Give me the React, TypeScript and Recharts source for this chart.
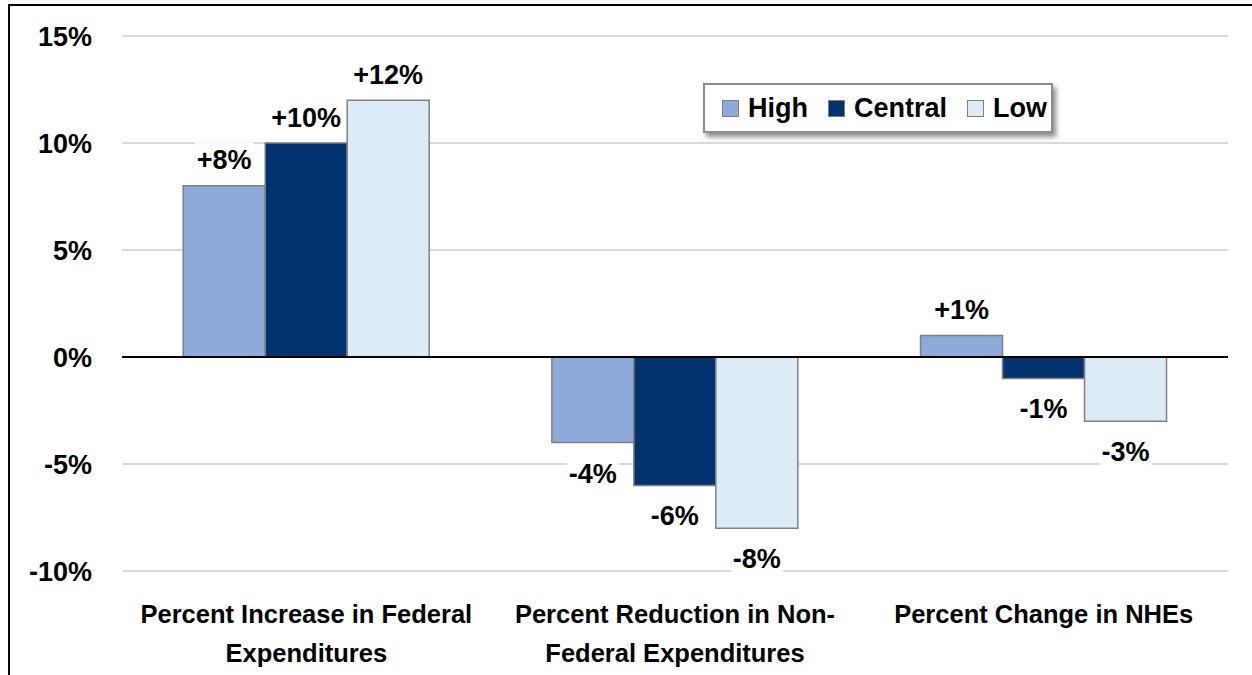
import React from 'react';
import { BarChart, Bar, XAxis, YAxis, CartesianGrid, ReferenceLine, LabelList } from 'recharts';

const categories = [
  'Percent Increase in Federal Expenditures',
  'Percent Reduction in Non-Federal Expenditures',
  'Percent Change in NHEs',
];
const categoryLines: string[][] = [
  ['Percent Increase in Federal', 'Expenditures'],
  ['Percent Reduction in Non-', 'Federal Expenditures'],
  ['Percent Change in NHEs'],
];
const highValues = [8, -4, 1];
const centralValues = [10, -6, -1];
const lowValues = [12, -8, -3];
const yTicks = [-10, -5, 0, 5, 10, 15];
const seriesNames = ['High', 'Central', 'Low'];
const seriesKeys = ['high', 'central', 'low'];
const seriesColors = ['#8EAADB', '#003370', '#DDEBF7'];

const data = categories.map((name, i) => ({
  name,
  high: highValues[i],
  central: centralValues[i],
  low: lowValues[i],
}));

const FONT = "'Liberation Sans', Arial, sans-serif";

const charW: Record<string, number> = {
  '+': 0.584, '-': 0.333, '%': 0.889,
  '0': 0.556, '1': 0.556, '2': 0.556, '3': 0.556, '4': 0.556,
  '5': 0.556, '6': 0.556, '7': 0.556, '8': 0.556, '9': 0.556,
};
const textWidth = (s: string, size: number) =>
  s.split('').reduce((a, c) => a + (charW[c] ?? 0.6), 0) * size;

const formatValue = (v: number) => (v > 0 ? '+' : '') + v + '%';

const renderLabel = (props: any) => {
  const { x, y, width, height } = props;
  let v = props.value;
  if (Array.isArray(v)) v = v[1];
  v = Number(v);
  const top = Math.min(y, y + height);
  const bottom = Math.max(y, y + height);
  const cx = x + width / 2;
  const text = formatValue(v);
  const cy = v >= 0 ? top - 26.5 : bottom + 30;
  const w = textWidth(text, 27);
  return (
    <g>
      <rect x={cx - w / 2 - 2} y={cy - 17} width={w + 4} height={34} fill="#ffffff" />
      <text
        x={cx}
        y={cy + 10}
        textAnchor="middle"
        fontFamily={FONT}
        fontWeight="bold"
        fontSize={27}
        fill="#000"
      >
        {text}
      </text>
    </g>
  );
};

const YTick = (props: any) => {
  const { x, y, payload } = props;
  return (
    <text
      x={x}
      y={y + 9.5}
      textAnchor="end"
      fontFamily={FONT}
      fontWeight="bold"
      fontSize={27}
      fill="#000"
    >
      {payload.value + '%'}
    </text>
  );
};

const XTick = (props: any) => {
  const { x, y, payload } = props;
  const idx = categories.indexOf(payload.value);
  const lines = idx >= 0 ? categoryLines[idx] : [String(payload.value)];
  return (
    <g>
      {lines.map((l, i) => (
        <text
          key={i}
          x={x}
          y={y + 52 + i * 38.5}
          textAnchor="middle"
          fontFamily={FONT}
          fontWeight="bold"
          fontSize={25.5}
          fill="#000"
        >
          {l}
        </text>
      ))}
    </g>
  );
};

const LegendBox = () => (
  <div
    style={{
      position: 'absolute',
      left: 703,
      top: 83,
      width: 350,
      height: 50,
      boxSizing: 'border-box',
      border: '2px solid #8c8c8c',
      background: '#fff',
      boxShadow: '3px 4px 5px rgba(0,0,0,0.45)',
      display: 'flex',
      alignItems: 'center',
      paddingLeft: 17,
      fontFamily: FONT,
      fontWeight: 'bold',
      fontSize: 27,
      color: '#000',
    }}
  >
    {seriesNames.map((n, i) => (
      <div key={n} style={{ display: 'flex', alignItems: 'center', marginRight: i < 2 ? 20 : 0 }}>
        <div
          style={{
            width: 17,
            height: 17,
            boxSizing: 'border-box',
            background: seriesColors[i],
            border: '1px solid #7f7f7f',
            marginRight: 9,
          }}
        />
        <span style={{ lineHeight: '27px' }}>{n}</span>
      </div>
    ))}
  </div>
);

export default function App() {
  return (
    <div
      style={{
        position: 'fixed',
        left: 0,
        top: 0,
        width: 1252,
        height: 675,
        overflow: 'hidden',
        background: '#fff',
      }}
    >
      <div
        style={{
          position: 'absolute',
          left: 8,
          top: 4,
          width: 1400,
          height: 800,
          border: '2px solid #000',
        }}
      />
      <div style={{ position: 'absolute', left: 0, top: 0 }}>
        <BarChart
          width={1252}
          height={675}
          data={data}
          margin={{ top: 36, right: 24, bottom: 0, left: 0 }}
          barCategoryGap="16.6%"
          barGap={0}
        >
          <CartesianGrid vertical={false} stroke="#d9d9d9" strokeWidth={2} />
          <XAxis
            dataKey="name"
            axisLine={false}
            tickLine={false}
            tickSize={0}
            tickMargin={0}
            height={104}
            interval={0}
            tick={<XTick />}
          />
          <YAxis
            domain={[-10, 15]}
            ticks={yTicks}
            axisLine={false}
            tickLine={false}
            tickSize={0}
            tickMargin={30}
            width={122}
            interval={0}
            tick={<YTick />}
          />
          {seriesKeys.map((k, i) => (
            <Bar
              key={k}
              dataKey={k}
              name={seriesNames[i]}
              fill={seriesColors[i]}
              stroke="#808080"
              strokeWidth={1.5}
              isAnimationActive={false}
            >
              <LabelList dataKey={k} content={renderLabel} />
            </Bar>
          ))}
          <ReferenceLine y={0} stroke="#000" strokeWidth={2} />
        </BarChart>
      </div>
      <LegendBox />
    </div>
  );
}
